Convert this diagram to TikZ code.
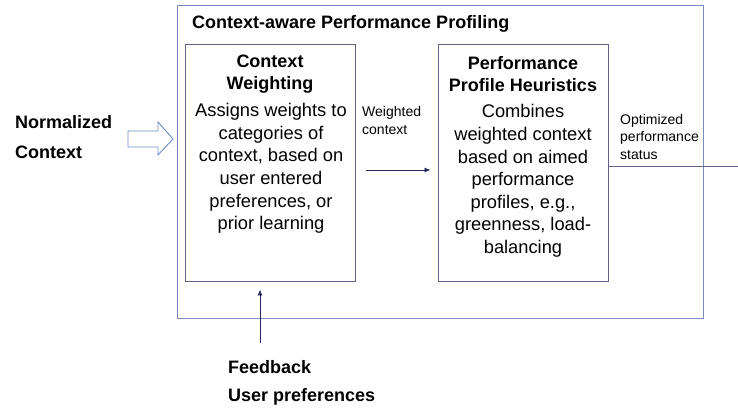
\documentclass[tikz,border=0pt]{standalone}
\usepackage{fontspec}
\setmainfont{Liberation Sans}
\usetikzlibrary{arrows.meta}
\definecolor{outerline}{RGB}{120,138,190}
\definecolor{innerline}{RGB}{98,98,140}
\definecolor{flowline}{RGB}{40,40,90}
\definecolor{blockarrow}{RGB}{110,140,200}
\tikzset{
  frame/.style={draw=outerline, line width=1pt, minimum width=526pt, minimum height=312pt, inner sep=0pt},
  stagebox/.style={draw=innerline, line width=1pt, minimum width=170pt, minimum height=237pt, inner sep=0pt},
  heading/.style={font=\fontsize{18}{22.5}\selectfont\bfseries, align=center, inner sep=0pt},
  bodytext/.style={font=\fontsize{18.3}{22.6}\selectfont, align=center, inner sep=0pt},
  smalltext/.style={font=\fontsize{14}{17.5}\selectfont, align=left, inner sep=0pt, anchor=west},
  sidelabel/.style={font=\fontsize{18}{30}\selectfont\bfseries, align=left, inner sep=0pt, anchor=west},
  flow/.style={draw=flowline, line width=0.8pt, -{Latex[length=6pt,width=5pt]}}
}
\begin{document}
\begin{tikzpicture}[x=1pt, y=-1pt]
\useasboundingbox (0,0) rectangle (738,411);

% enclosing frame and its title
\node[frame] (frame) at (440,162) {};
\node[font=\fontsize{18}{22}\selectfont\bfseries, anchor=west, inner sep=0pt] (title) at (192,24) {Context-aware Performance Profiling};

% first stage
\node[stagebox] (weight) at (270,163.5) {};
\node[heading] (weighthead) at (270,74) {Context\\Weighting};
\node[bodytext] (weightbody) at (271,168.5) {Assigns weights to\\categories of\\context, based on\\user entered\\preferences, or\\prior learning};

% second stage
\node[stagebox] (profile) at (523,163.5) {};
\node[heading] (profilehead) at (523,74) {Performance\\Profile Heuristics};
\node[bodytext] (profilebody) at (523,181) {Combines\\weighted context\\based on aimed\\performance\\profiles, e.g.,\\greenness, load-\\balancing};

% input label and block arrow
\node[sidelabel] (input) at (15,137) {Normalized\\Context};
\draw[blockarrow, line width=0.9pt, fill=white]
  (128,131) -- (158,131) -- (158,122) -- (173,139) -- (158,155) -- (158,147) -- (128,147) -- cycle;

% weighted context between the stages
\node[smalltext] (wlabel) at (362,120.5) {Weighted\\context};
\coordinate (wstart) at (366,170);
\draw[flow] (wstart) -- ([xshift=-7pt]profile.west |- wstart);

% output
\node[smalltext] (outlabel) at (620,136.5) {Optimized\\performance\\status};
\coordinate (outend) at (738,167);
\draw[draw=innerline, line width=1pt] (profile.east |- outend) -- (outend);

% feedback
\node[sidelabel, font=\fontsize{18}{28}\selectfont\bfseries] (feedback) at (228,382.5) {Feedback\\User preferences};
\coordinate (fbstart) at (260,343);
\draw[flow] (fbstart) -- ([yshift=-7pt]weight.south -| fbstart);
\end{tikzpicture}
\end{document}
